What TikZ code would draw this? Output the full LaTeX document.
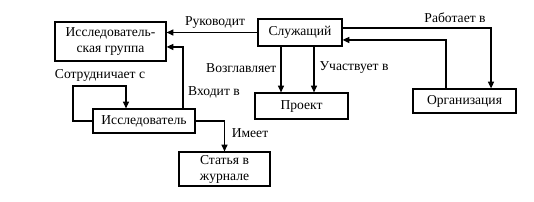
\documentclass[tikz,border=0pt]{standalone}
\usepackage{fontspec}
\setmainfont{Liberation Serif}
\usetikzlibrary{arrows.meta, positioning}

\begin{document}
\begin{tikzpicture}[x=0.75pt, y=-0.75pt,
    font=\fontsize{10.2}{12}\selectfont,
    entity/.style={draw, line width=0.9pt, align=center, inner sep=1pt},
    rel/.style={line width=0.9pt, -{Triangle[length=5pt, width=4.5pt]}},
    lbl/.style={inner sep=1pt}]
\useasboundingbox (0,0) rectangle (534,202);

% Entities
\node[entity, minimum width=83.25pt, minimum height=29.25pt] (group) at (110.5,41.5) {Исследователь-\\ская группа};
\node[entity, minimum width=63pt, minimum height=20.25pt] (empl) at (300,32.5) {Служащий};
\node[entity, minimum width=69.75pt, minimum height=19.5pt] (proj) at (301.5,106) {Проект};
\node[entity, minimum width=77.25pt, minimum height=18pt] (org) at (464.5,101) {Организация};
\node[entity, minimum width=76.5pt, minimum height=18pt] (res) at (144,121) {Исследователь};
\node[entity, minimum width=68.25pt, minimum height=25.5pt] (paper) at (224.5,169) {Статья в\\журнале};

% Relations of the employee
\draw[rel] (empl.west) -- (empl.west -| group.east);
\node[lbl] (lleads) at (215,23) {Руководит};
\draw[rel] ([xshift=-14.25pt]empl.south) -- ([xshift=-14.25pt]empl.south |- proj.north);
\node[lbl, anchor=east] (lheads) at (278,68) {Возглавляет};
\draw[rel] ([xshift=10.5pt]empl.south) -- ([xshift=10.5pt]empl.south |- proj.north);
\node[lbl, anchor=west] (lpart) at (318,68) {Участвует в};
\draw[rel] ([yshift=3.4pt]empl.east) -| ([xshift=19.9pt]org.north);
\node[lbl] (lworks) at (455,18) {Работает в};
\draw[rel] ([xshift=-13.9pt]org.north) |- ([yshift=-5.6pt]empl.east);

% Relations of the researcher
\draw[rel] ([xshift=29.25pt]res.north) |- ([yshift=-4.1pt]group.east);
\node[lbl] (lmember) at (214,92) {Входит в};
\coordinate (coopturn) at (73,86);
\draw[rel] (res.west) -| (coopturn) -| ([xshift=-13.5pt]res.north);
\node[lbl] (lcoop) at (100,75) {Сотрудничает с};
\draw[rel] (res.east) -| (paper.north);
\node[lbl] (lhas) at (250,133) {Имеет};
\end{tikzpicture}
\end{document}
